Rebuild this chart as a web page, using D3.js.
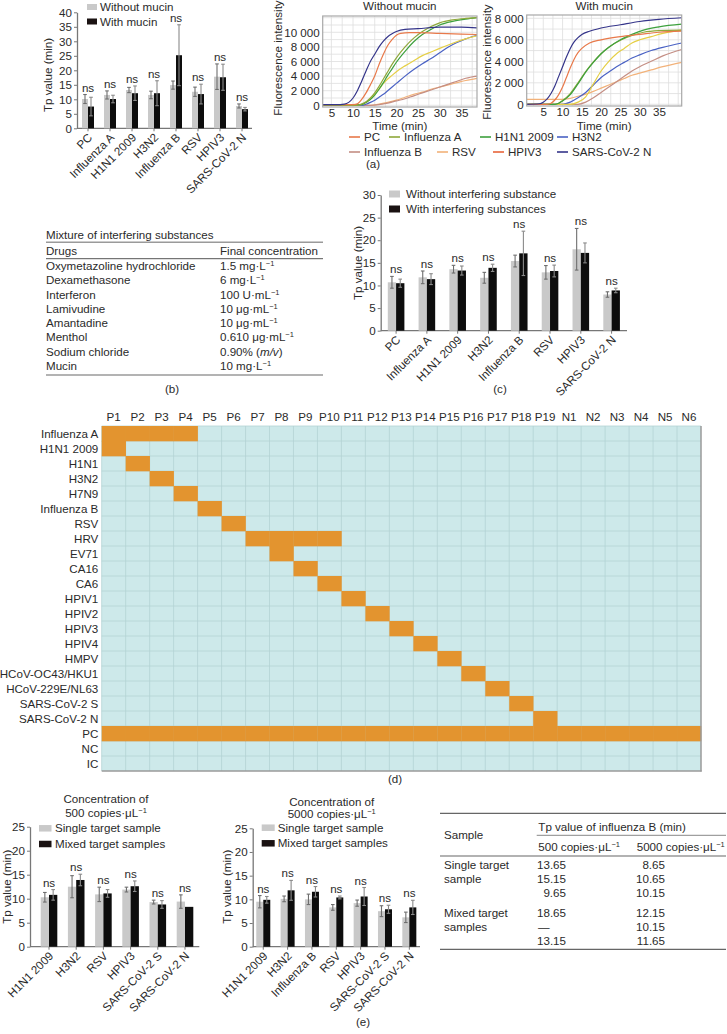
<!DOCTYPE html>
<html><head><meta charset="utf-8">
<script src="https://cdn.jsdelivr.net/npm/d3@7"></script>
<style>body{margin:0;background:#fff}svg{font-family:"Liberation Sans",Arial,sans-serif}</style>
</head><body><svg id="c" width="727" height="1034"></svg>
<script>
// ---------------- DATA ----------------
const mucinCategories = ["PC","Influenza A","H1N1 2009","H3N2","Influenza B","RSV","HPIV3","SARS-CoV-2 N"];
const withoutMucin    = [10.1,11.5,13.2,11.5,14.9,12.6,17.8,7.7];
const withoutMucinErr = [1.55,1.4,0.9,1.3,1.4,1.6,4.4,0.7];
const withMucin       = [7.5,10.1,12.1,12.1,25.2,11.8,17.6,6.6];
const withMucinErr    = [3.2,1.3,2.5,4.3,10.5,3.4,4.5,0.6];
const mucinTicks = [0,5,10,15,20,25,30,35,40];

const interfCategories = ["PC","Influenza A","H1N1 2009","H3N2","Influenza B","RSV","HPIV3","SARS-CoV-2 N"];
const withoutInterf    = [10.7,11.8,13.6,11.7,15.4,12.9,18.0,8.0];
const withoutInterfErr = [1.3,1.4,0.85,1.2,1.3,1.5,4.6,0.6];
const withInterf       = [10.5,11.4,13.3,13.9,17.1,13.2,17.2,8.9];
const withInterfErr    = [0.9,1.2,1.0,0.8,4.9,1.3,2.2,0.5];
const interfTicks = [0,5,10,15,20,25,30];

const mix500Categories = ["H1N1 2009","H3N2","RSV","HPIV3","SARS-CoV-2 S","SARS-CoV-2 N"];
const single500    = [10.3,12.5,10.9,11.9,9.3,9.4];
const single500Err = [1.0,2.3,1.5,0.5,0.4,1.4];
const mixed500     = [10.8,13.9,11.1,12.6,8.8,8.3];
const mixed500Err  = [1.1,1.2,0.8,1.1,0.8,0];

const mix5000Categories = ["H1N1 2009","H3N2","Influenza B","RSV","HPIV3","SARS-CoV-2 S","SARS-CoV-2 N"];
const single5000    = [9.5,10.1,10.0,8.3,9.2,7.5,6.2];
const single5000Err = [1.3,0.6,1.1,0.6,0.65,1.15,1.1];
const mixed5000     = [9.9,11.9,11.6,10.4,10.6,7.9,8.3];
const mixed5000Err  = [0.7,2.1,1.1,0.3,1.9,0.85,1.5];
const mixTicks = [0,5,10,15,20,25];

// fluorescence curves [time (min), intensity]
const fluoSeries = ["PC","Influenza A","H1N1 2009","H3N2","Influenza B","RSV","HPIV3","SARS-CoV-2 N"];
const woPC   = [[3,100],[10,100],[11,200],[12,800],[13,1700],[14,2800],[15,4000],[16,5600],[17,7000],[18,8200],[19,9000],[20,9600],[21,9850],[23,9950],[25,9950],[30,9850],[35,9750],[38.6,9700]];
const woFluA = [[3,0],[11,0],[12,200],[13,500],[14,1000],[15,1700],[16,2600],[17,3600],[18,4600],[19,5600],[20,6500],[22,8000],[24,9200],[26,10100],[28,10800],[30,11300],[33,11700],[36,11900],[38.6,12000]];
const woH1N1 = [[3,0],[12,100],[13,400],[14,800],[15,1400],[16,2200],[17,3100],[18,4100],[19,5000],[20,5900],[22,7400],[24,8700],[26,9700],[28,10400],[30,11000],[33,11500],[36,11800],[38.6,12000]];
const woH3N2 = [[3,0],[12,0],[13,150],[14,400],[15,700],[16,1100],[17,1500],[18,2000],[20,3000],[22,4000],[24,4900],[26,5700],[28,6400],[30,7200],[32,8000],[34,8600],[36,9100],[38.6,9600]];
const woFluB = [[3,0],[14,0],[16,100],[18,300],[20,600],[22,900],[24,1300],[26,1700],[28,2100],[30,2500],[32,2900],[34,3300],[36,3700],[38.6,4000]];
const woRSV  = [[3,0],[14,0],[16,150],[18,400],[20,700],[22,1100],[24,1500],[26,1800],[28,2200],[30,2500],[32,2800],[34,3100],[36,3400],[38.6,3700]];
const woHPIV3= [[3,0],[12,100],[13,400],[14,900],[15,1500],[16,2200],[17,3000],[18,3600],[19,4100],[20,4600],[22,5400],[24,6100],[26,6800],[28,7300],[30,7800],[33,8500],[36,9100],[38.6,9500]];
const woSARS = [[3,100],[7,100],[8,150],[9,400],[10,1000],[11,2000],[12,3300],[13,4700],[14,6000],[15,7000],[16,8000],[17,8800],[18,9400],[19,9800],[20,10100],[22,10400],[25,10500],[30,10700],[35,10700],[38.6,10600]];

const wPC   = [[0.7,0],[6,0],[7,100],[8,400],[9,900],[10,1600],[11,2500],[12,3400],[13,4200],[14,4800],[15,5200],[17,5700],[20,6000],[25,6300],[30,6500],[35,6700],[40.9,6800]];
const wFluA = [[0.7,0],[8,0],[9,100],[10,350],[12,1000],[14,2000],[16,3050],[18,3950],[20,4700],[22,5300],[25,5950],[28,6400],[31,6700],[35,6850],[40.9,6900]];
const wH1N1 = [[0.7,0],[8,0],[9,100],[10,300],[12,900],[14,1900],[16,3000],[18,3900],[20,4700],[22,5300],[25,6000],[28,6500],[31,6900],[35,7200],[40.9,7450]];
const wH3N2 = [[0.7,0],[10,0],[12,200],[14,600],[16,1100],[18,1800],[20,2500],[22,3000],[24,3500],[26,3900],[28,4300],[30,4600],[33,5000],[36,5300],[40.9,5700]];
const wFluB = [[0.7,0],[14,0],[16,200],[18,600],[20,1100],[22,1600],[24,2100],[26,2600],[28,3100],[30,3500],[33,4000],[36,4500],[40.9,5100]];
const wRSV  = [[0.7,450],[10,450],[12,550],[14,750],[16,950],[18,1200],[20,1500],[22,1800],[24,2100],[26,2400],[28,2700],[30,2900],[33,3200],[36,3500],[40.9,3900]];
const wHPIV3= [[0.7,0],[12,0],[14,200],[16,700],[18,1900],[20,3100],[22,4000],[24,4700],[26,5200],[28,5700],[30,6000],[33,6300],[36,6600],[40.9,6900]];
const wSARS = [[0.7,0],[4,50],[5,200],[6,500],[7,1000],[8,1700],[9,2600],[10,3500],[11,4400],[12,5200],[13,5800],[14,6200],[15,6500],[17,6800],[20,7100],[25,7400],[30,7700],[35,7900],[40.9,8050]];
const fluoTimeTicks = [5,10,15,20,25,30,35];
const fluoWithoutTicks = [0,2000,4000,6000,8000,10000];
const fluoWithTicks = [0,2000,4000,6000,8000];

// table (b)
const drugs = ["Oxymetazoline hydrochloride","Dexamethasone","Interferon","Lamivudine","Amantadine","Menthol","Sodium chloride","Mucin"];
const finalConc = ["1.5 mg·L^{−1}","6 mg·L^{−1}","100 U·mL^{−1}","10 μg·mL^{−1}","10 μg·mL^{−1}","0.610 μg·mL^{−1}","0.90% (_{m/v})","10 mg·L^{−1}"];

// heatmap (d)
const heatRows = ["Influenza A","H1N1 2009","H1N1","H3N2","H7N9","Influenza B","RSV","HRV","EV71","CA16","CA6","HPIV1","HPIV2","HPIV3","HPIV4","HMPV","HCoV-OC43/HKU1","HCoV-229E/NL63","SARS-CoV-2 S","SARS-CoV-2 N","PC","NC","IC"];
const heatCols = ["P1","P2","P3","P4","P5","P6","P7","P8","P9","P10","P11","P12","P13","P14","P15","P16","P17","P18","P19","N1","N2","N3","N4","N5","N6"];
const heatPositive = [["P1","P2","P3","P4"],["P1"],["P2"],["P3"],["P4"],["P5"],["P6"],["P7","P8","P9","P10"],["P8"],["P9"],["P10"],["P11"],["P12"],["P13"],["P14"],["P15"],["P16"],["P17"],["P18"],["P19"],heatCols,[],[]];

// table (e)
const infBSingle500  = ["13.65","15.15","9.65"];
const infBSingle5000 = ["8.65","10.65","10.15"];
const infBMixed500   = ["18.65","—","13.15"];
const infBMixed5000  = ["12.15","10.15","11.65"];

// ---------------- DRAWING ----------------
const svg = d3.select("#c");
const TXT = "#2a2a2a", AX = "#777";
const FS = "11.6px";

function rich(sel, str) {
  const parts = str.split(/(\^\{[^}]*\}|_\{[^}]*\})/).filter(s => s.length);
  let lifted = false;
  parts.forEach(p => {
    if (p.startsWith("^{")) {
      sel.append("tspan").attr("font-size", "7.5px").attr("dy", -4).text(p.slice(2, -1));
      lifted = true;
    } else if (p.startsWith("_{")) {
      const t = sel.append("tspan").attr("font-style", "italic").text(p.slice(2, -1));
      if (lifted) { t.attr("dy", 4); lifted = false; }
    } else {
      const t = sel.append("tspan").text(p);
      if (lifted) { t.attr("dy", 4); lifted = false; }
    }
  });
}
function label(x, y, str, opt = {}) {
  const t = svg.append("text").attr("x", x).attr("y", y).attr("dy", "0.35em")
    .attr("font-size", opt.fs || FS).attr("fill", TXT)
    .attr("text-anchor", opt.anchor || "start");
  if (opt.rotate) t.attr("transform", `rotate(${opt.rotate},${x},${y})`);
  rich(t, str);
  return t;
}

function groupedBars(cfg) {
  const g = svg.append("g");
  const x = d3.scaleBand().domain(cfg.cats).range(cfg.band);
  const y = d3.scaleLinear().domain([0, cfg.yMax]).range([cfg.y0, cfg.y1]);
  const ya = g.append("g").attr("transform", `translate(${cfg.axisX[0]},0)`)
    .call(d3.axisLeft(y).tickValues(cfg.ticks).tickSize(3).tickSizeOuter(0).tickPadding(2));
  ya.select(".domain").attr("stroke", AX).attr("stroke-width", 1.3);
  ya.selectAll(".tick line").attr("stroke", AX);
  ya.selectAll(".tick text").attr("font-size", FS).attr("fill", TXT).attr("font-family", null);
  const xa = g.append("g").attr("transform", `translate(0,${cfg.y0})`)
    .call(d3.axisBottom(x).tickSize(3).tickSizeOuter(0));
  xa.select(".domain").remove();
  xa.selectAll(".tick line").attr("stroke", AX);
  xa.selectAll(".tick text").attr("font-size", FS).attr("fill", TXT).attr("font-family", null)
    .attr("text-anchor", "end").attr("x", 0).attr("y", 0).attr("dy", 0)
    .attr("transform", "translate(5,10) rotate(-45)");
  g.append("line").attr("x1", cfg.axisX[0]).attr("x2", cfg.axisX[1])
    .attr("y1", cfg.y0).attr("y2", cfg.y0).attr("stroke", AX).attr("stroke-width", 1.3);
  const bw = cfg.bw;
  cfg.cats.forEach((c, i) => {
    const cx = x(c) + x.bandwidth() / 2;
    const sets = [[cfg.a[i], cfg.ae[i], cx - bw, "#c9c9c9", "#6e6e6e"], [cfg.b[i], cfg.be[i], cx, "#0d0d0d", "#8a8a8a"]];
    let top = cfg.y0;
    sets.forEach(([v, e, bx, fill, ec]) => {
      g.append("rect").attr("x", bx).attr("width", bw).attr("y", y(v)).attr("height", cfg.y0 - y(v)).attr("fill", fill);
      const mx = bx + bw / 2;
      if (e > 0) {
        g.append("line").attr("x1", mx).attr("x2", mx).attr("y1", y(v + e)).attr("y2", y(v - e)).attr("stroke", ec).attr("stroke-width", 1.1);
        [v + e, v - e].forEach(w => g.append("line").attr("x1", mx - 1.8).attr("x2", mx + 1.8).attr("y1", y(w)).attr("y2", y(w)).attr("stroke", ec).attr("stroke-width", 1.1));
      }
      top = Math.min(top, y(v + e));
    });
    g.append("text").attr("x", cx).attr("y", top - 3).attr("text-anchor", "middle")
      .attr("font-size", FS).attr("fill", TXT).text("ns");
  });
  label(cfg.ylab[0], cfg.ylab[1], "Tp value (min)", {anchor: "middle", rotate: -90});
  cfg.legend.items.forEach((it, k) => {
    const L = cfg.legend;
    g.append("rect").attr("x", L.x).attr("y", L.ys[k] - L.h / 2).attr("width", L.w).attr("height", L.h)
      .attr("fill", k === 0 ? "#c9c9c9" : "#1a1212");
    label(L.tx, L.ys[k], it);
  });
}

// Panel (a) left bars
groupedBars({cats: mucinCategories, a: withoutMucin, ae: withoutMucinErr, b: withMucin, be: withMucinErr,
  band: [77, 253], axisX: [77, 252], y0: 128.3, y1: 12.3, yMax: 40, ticks: mucinTicks, bw: 6, ylab: [48, 75],
  legend: {x: 87, w: 10, h: 6, tx: 100, ys: [7, 21.5], items: ["Without mucin", "With mucin"]}});

// Panel (c)
groupedBars({cats: interfCategories, a: withoutInterf, ae: withoutInterfErr, b: withInterf, be: withInterfErr,
  band: [380.7, 627], axisX: [380.7, 627], y0: 330.7, y1: 195, yMax: 30, ticks: interfTicks, bw: 8.3, ylab: [358, 263],
  legend: {x: 389, w: 11, h: 7, tx: 406, ys: [194, 209], items: ["Without interfering substance", "With interfering substances"]}});

// Panel (e) left
groupedBars({cats: mix500Categories, a: single500, ae: single500Err, b: mixed500, be: mixed500Err,
  band: [35.4, 198.6], axisX: [30, 199.3], y0: 946.7, y1: 826.7, yMax: 25, ticks: mixTicks, bw: 8.3, ylab: [7, 886.7],
  legend: {x: 39, w: 12.5, h: 6.5, tx: 55, ys: [828.3, 844], items: ["Single target sample", "Mixed target samples"]}});
label(106, 799, "Concentration of", {anchor: "middle"});
label(106, 812.7, "500 copies·μL^{−1}", {anchor: "middle"});

// Panel (e) middle
groupedBars({cats: mix5000Categories, a: single5000, ae: single5000Err, b: mixed5000, be: mixed5000Err,
  band: [251.1, 421.5], axisX: [252.7, 420], y0: 946.7, y1: 828.3, yMax: 25, ticks: mixTicks, bw: 7, ylab: [227, 886.7],
  legend: {x: 261.7, w: 13, h: 6.5, tx: 277.7, ys: [827.7, 843.3], items: ["Single target sample", "Mixed target samples"]}});
label(331.7, 801.7, "Concentration of", {anchor: "middle"});
label(331.7, 813.5, "5000 copies·μL^{−1}", {anchor: "middle"});

// Fluorescence charts
const lineColors  = ["#e8794a","#8fa83a","#3ea13e","#4a62c4","#c48e84","#f2b27a","#e5cf45","#35358a"];
const swatchColors= ["#e8794a","#8fa83a","#3ea13e","#4a62c4","#c48e84","#f2b27a","#e8643a","#35358a"];
const fmt = d3.formatLocale({decimal: ".", thousands: " ", grouping: [3], currency: ["", ""]}).format(",");

function fluoChart(cfg, id) {
  const x = d3.scaleLinear().domain(cfg.xd).range([cfg.l, cfg.r]);
  const y = d3.scaleLinear().domain(cfg.yd).range([cfg.b, cfg.t]);
  const g = svg.append("g");
  g.append("rect").attr("x", cfg.l).attr("y", cfg.t).attr("width", cfg.r - cfg.l).attr("height", cfg.b - cfg.t).attr("fill", "#fff");
  d3.range(2.5, cfg.xd[1], 2.5).filter(v => v > cfg.xd[0]).forEach(v =>
    g.append("line").attr("x1", x(v)).attr("x2", x(v)).attr("y1", cfg.t).attr("y2", cfg.b).attr("stroke", "#dedede").attr("stroke-width", 0.8));
  d3.range(0, cfg.yd[1], 1000).forEach(v =>
    g.append("line").attr("x1", cfg.l).attr("x2", cfg.r).attr("y1", y(v)).attr("y2", y(v)).attr("stroke", "#dedede").attr("stroke-width", 0.8));
  svg.append("clipPath").attr("id", id).append("rect").attr("x", cfg.l).attr("y", cfg.t).attr("width", cfg.r - cfg.l).attr("height", cfg.b - cfg.t);
  const line = d3.line().x(d => x(d[0])).y(d => y(d[1])).curve(d3.curveMonotoneX);
  const cg = g.append("g").attr("clip-path", `url(#${id})`);
  cfg.curves.forEach((c, i) => cg.append("path").attr("d", line(c)).attr("fill", "none")
    .attr("stroke", lineColors[cfg.order[i]]).attr("stroke-width", 1.2));
  g.append("rect").attr("x", cfg.l).attr("y", cfg.t).attr("width", cfg.r - cfg.l).attr("height", cfg.b - cfg.t)
    .attr("fill", "none").attr("stroke", "#a8a8a8").attr("stroke-width", 1.2);
  const xa = g.append("g").attr("transform", `translate(0,${cfg.b})`)
    .call(d3.axisBottom(x).tickValues(fluoTimeTicks).tickSize(0).tickPadding(2));
  xa.select(".domain").remove();
  xa.selectAll("text").attr("font-size", FS).attr("fill", TXT).attr("font-family", null);
  const ya = g.append("g").attr("transform", `translate(${cfg.l},0)`)
    .call(d3.axisLeft(y).tickValues(cfg.yt).tickSize(0).tickPadding(3).tickFormat(fmt));
  ya.select(".domain").remove();
  ya.selectAll("text").attr("font-size", FS).attr("fill", TXT).attr("font-family", null);
  label((cfg.l + cfg.r) / 2, 6, cfg.title, {anchor: "middle"});
  label((cfg.l + cfg.r) / 2, 126, "Time (min)", {anchor: "middle"});
  label(cfg.ylx, cfg.yly, "Fluorescence intensity", {anchor: "middle", rotate: -90});
}
fluoChart({xd: [3, 38.6], yd: [-233, 12233], l: 322.7, r: 477, t: 16, b: 107, yt: fluoWithoutTicks,
  curves: [woRSV, woFluB, woH3N2, woHPIV3, woH1N1, woFluA, woPC, woSARS], order: [5, 4, 3, 6, 2, 1, 0, 7],
  title: "Without mucin", ylx: 278, yly: 58}, "clipA");
fluoChart({xd: [0.7, 40.9], yd: [-158, 8307], l: 526.7, r: 681.7, t: 15, b: 106, yt: fluoWithTicks,
  curves: [wRSV, wFluB, wH3N2, wHPIV3, wFluA, wH1N1, wPC, wSARS], order: [5, 4, 3, 6, 1, 2, 0, 7],
  title: "With mucin", ylx: 487, yly: 62}, "clipB");

// legend (a)
const legPos = [[349,137],[389,137],[480,137],[557,137],[349,152],[437,152],[493,152],[557,152]];
fluoSeries.forEach((name, k) => {
  const [lx, ly] = legPos[k];
  svg.append("line").attr("x1", lx).attr("x2", lx + 11).attr("y1", ly).attr("y2", ly)
    .attr("stroke", swatchColors[k]).attr("stroke-width", 1.6);
  label(lx + 15, ly, name);
});
label(373, 164, "(a)", {anchor: "middle"});

// Table (b)
label(46, 235, "Mixture of interfering substances");
[[242.3, 1.6, "#9a9a9a"], [258.7, 1, "#555"], [375, 1.6, "#9a9a9a"]].forEach(([yy, w, c]) =>
  svg.append("line").attr("x1", 46).attr("x2", 323).attr("y1", yy).attr("y2", yy).attr("stroke", c).attr("stroke-width", w));
label(46, 250.7, "Drugs");
label(220, 250.7, "Final concentration");
drugs.forEach((d, i) => {
  const yy = 266 + i * 14.25;
  label(46, yy, d);
  label(220, yy, finalConc[i]);
});
label(172, 389, "(b)", {anchor: "middle"});
label(500, 389, "(c)", {anchor: "middle"});

// Heatmap (d)
const hx = d3.scaleBand().domain(heatCols).range([101.7, 701]);
const hy = d3.scaleBand().domain(heatRows).range([426, 771]);
const hg = svg.append("g");
hg.append("rect").attr("x", 101.7).attr("y", 426).attr("width", 701 - 101.7).attr("height", 771 - 426).attr("fill", "#cde9ea");
heatCols.forEach(c => hg.append("line").attr("x1", hx(c)).attr("x2", hx(c)).attr("y1", 426).attr("y2", 771).attr("stroke", "#b4d3d4").attr("stroke-width", 0.8));
heatRows.forEach(r => hg.append("line").attr("x1", 101.7).attr("x2", 701).attr("y1", hy(r)).attr("y2", hy(r)).attr("stroke", "#b4d3d4").attr("stroke-width", 0.8));
heatRows.forEach((r, i) => heatPositive[i].forEach(c =>
  hg.append("rect").attr("x", hx(c)).attr("y", hy(r)).attr("width", hx.bandwidth() + 0.3).attr("height", hy.bandwidth() + 0.3).attr("fill", "#e3942f")));
hg.append("line").attr("x1", 701).attr("x2", 701).attr("y1", 426).attr("y2", 771.5).attr("stroke", "#9a9a9a").attr("stroke-width", 1.5);
hg.append("line").attr("x1", 101.7).attr("x2", 701.7).attr("y1", 771).attr("y2", 771).attr("stroke", "#9a9a9a").attr("stroke-width", 1.5);
heatCols.forEach(c => label(hx(c) + hx.bandwidth() / 2, 417.3, c, {anchor: "middle"}));
heatRows.forEach(r => label(98.3, hy(r) + hy.bandwidth() / 2, r, {anchor: "end"}));
label(395, 779, "(d)", {anchor: "middle"});

// Table (e)
[[813.3, 440, 1.2, "#666"], [835.3, 536.7, 1, "#888"], [856, 440, 1.2, "#666"], [949.3, 440, 1.2, "#666"]].forEach(([yy, x1, w, c]) =>
  svg.append("line").attr("x1", x1).attr("x2", 726).attr("y1", yy).attr("y2", yy).attr("stroke", c).attr("stroke-width", w));
label(444, 835.3, "Sample");
label(538.3, 826.7, "Tp value of influenza B (min)");
label(538.3, 846.7, "500 copies·μL^{−1}");
label(636.7, 846.7, "5000 copies·μL^{−1}");
label(444, 865, "Single target");
label(444, 879, "sample");
label(444, 913.3, "Mixed target");
label(444, 926.7, "samples");
const rowY1 = [865, 879, 893.3], rowY2 = [913.3, 926.7, 941];
function cell(x, y, v) {
  if (v === "—") label(538, y, v); else label(x, y, v, {anchor: "end"});
}
infBSingle500.forEach((v, i) => cell(566, rowY1[i], v));
infBSingle5000.forEach((v, i) => cell(665, rowY1[i], v));
infBMixed500.forEach((v, i) => cell(566, rowY2[i], v));
infBMixed5000.forEach((v, i) => cell(665, rowY2[i], v));
label(363, 1022, "(e)", {anchor: "middle"});
</script></body></html>
